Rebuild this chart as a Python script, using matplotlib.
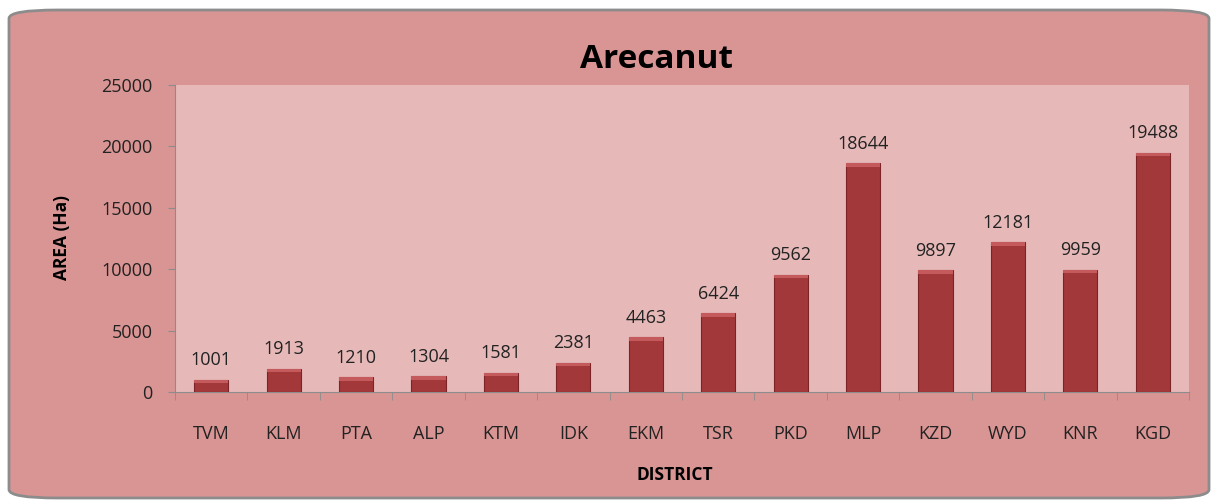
import numpy as np
import matplotlib.pyplot as plt
from matplotlib.patches import FancyBboxPatch

districts = ["TVM", "KLM", "PTA", "ALP", "KTM", "IDK", "EKM",
             "TSR", "PKD", "MLP", "KZD", "WYD", "KNR", "KGD"]
area = [1001, 1913, 1210, 1304, 1581, 2381, 4463,
        6424, 9562, 18644, 9897, 12181, 9959, 19488]
yticks = [0, 5000, 10000, 15000, 20000, 25000]

plt.rcParams["font.family"] = ["Open Sans", "DejaVu Sans"]

fig = plt.figure(figsize=(12.12, 5.04), dpi=100)
fig.patch.set_facecolor("white")

# rounded outer frame
frame = FancyBboxPatch((9 / 1212, 6 / 504), 1200 / 1212, 488 / 504,
                       boxstyle="round,pad=0,rounding_size=0.04",
                       transform=fig.transFigure, facecolor="#D99594",
                       edgecolor="#8C8C8C", linewidth=2, zorder=-1,
                       mutation_aspect=504 / 1212)
fig.patches.append(frame)

ax = fig.add_axes([175 / 1212, 1 - 392 / 504, (1189 - 175) / 1212, (392 - 85) / 504])
ax.set_zorder(2)
ax.set_facecolor("#E6B9B8")

x = np.arange(len(districts))
ax.bar(x, area, width=0.47, color="#A3383A", edgecolor="#7A2427", linewidth=0.8, zorder=3)
# lighter bevel on top of each bar
cap = np.full(len(area), 300)
ax.bar(x, cap, bottom=np.array(area) - cap, width=0.47, color="#C45A5C",
       edgecolor="none", zorder=4)

for xi, v in zip(x, area):
    ax.text(xi, v + 850, str(v), ha="center", va="bottom", fontsize=13, color="#222222")

ax.set_xlim(-0.5, len(districts) - 0.5)
ax.set_ylim(0, 25000)
ax.set_yticks(yticks)
ax.set_yticklabels([str(t) for t in yticks], fontsize=13, color="#222222")
ax.set_xticks(x)
ax.set_xticklabels(districts, fontsize=13, color="#222222")
ax.set_xticks(np.arange(len(districts) + 1) - 0.5, minor=True)
ax.tick_params(axis="x", which="major", length=0, pad=24)
ax.tick_params(axis="x", which="minor", length=6, color="#8C8C8C")
ax.tick_params(axis="y", length=5, color="#8C8C8C", pad=11)

for s in ["top", "right"]:
    ax.spines[s].set_visible(False)
ax.spines["left"].set_color("#8C8C8C")
ax.spines["bottom"].set_color("#8C8C8C")

fig.text(656 / 1212, 1 - 60 / 504, "Arecanut", ha="center", va="center",
         fontsize=24, fontweight="bold", color="black")
fig.text(62 / 1212, 1 - 238 / 504, "AREA (Ha)", ha="center", va="center",
         rotation=90, fontsize=12.5, fontweight="bold")
fig.text(675 / 1212, 1 - 475 / 504, "DISTRICT", ha="center", va="center",
         fontsize=12.5, fontweight="bold")

fig.savefig("out.png", dpi=100)
